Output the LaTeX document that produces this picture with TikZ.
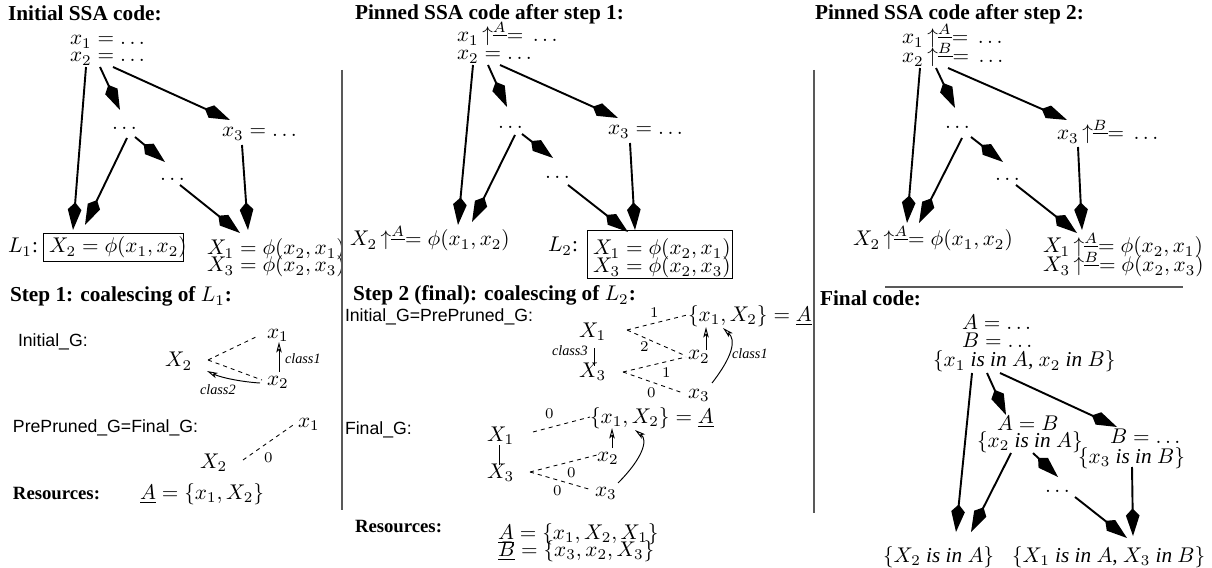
\documentclass[tikz,border=0pt]{standalone}
\usepackage{fontspec}
\setmainfont{Liberation Serif}
\newfontfamily\helv{Liberation Sans}
\usetikzlibrary{arrows.meta}
\newcommand{\pinup}[1]{\,{\uparrow}^{\underline{#1}}{=}\;}
\begin{document}
\begin{tikzpicture}[x=0.47pt,y=-0.47pt,
  every node/.style={inner sep=0pt, outer sep=0pt, anchor=base west},
  ttl/.style={font=\fontsize{10}{12}\selectfont\bfseries},
  res/.style={font=\fontsize{8.8}{10}\selectfont\bfseries},
  sans/.style={font=\fontsize{8.3}{10}\selectfont\helv},
  cls/.style={font=\fontsize{6.7}{8}\selectfont\itshape},
  num/.style={font=\fontsize{7}{8}\selectfont},
  flow/.style={line width=0.9pt, -{Kite[length=13pt,width=6.4pt,inset=3.4pt]}},
  dep/.style={line width=0.4pt, dash pattern=on 1.9pt off 1.9pt},
  cl/.style={line width=0.45pt, -{Stealth[length=5pt,width=2.6pt,inset=1.2pt,open]}},
  sep/.style={line width=0.6pt, black!65},
  boxed/.style={draw, line width=0.45pt, anchor=north west},
]
\useasboundingbox (0,0) rectangle (1212,568);

% ---------------- Panel 1
\node[ttl] (t1) at (8,21) {Initial SSA code:};
\node (p1a) at (70,45) {$x_1 = \ldots$};
\node (p1b) at (70,62) {$x_2 = \ldots$};
\node (p1d1) at (112,130) {$\ldots$};
\node (p1x3) at (222,137) {$x_3 = \ldots$};
\node (p1d2) at (160,181) {$\ldots$};
\node (p1L) at (8,253) {$L_1$:};
\node[boxed, minimum width=65.8pt, minimum height=13.6pt] (box1) at (43,233) {};
\node (p1X2) at (49,253) {$X_2 = \phi(x_1,x_2)$};
\node (p1X1) at (207,255) {$X_1 = \phi(x_2,x_1)$};
\node (p1X3) at (207,272) {$X_3 = \phi(x_2,x_3)$};

% ---------------- Panel 2
\node[ttl] (t2) at (355,20) {Pinned SSA code after step 1:};
\node (p2a) at (457,42) {$x_1\pinup{A}\ldots$};
\node (p2b) at (457,60) {$x_2 = \ldots$};
\node (p2d1) at (498,129) {$\ldots$};
\node (p2x3) at (608,135) {$x_3 = \ldots$};
\node (p2d2) at (545,179) {$\ldots$};
\node (p2X2) at (350,246) {$X_2\pinup{A}\phi(x_1,x_2)$};
\node (p2L) at (548,252) {$L_2$:};
\node[boxed, minimum width=68.6pt, minimum height=22.6pt] (box2) at (587,230) {};
\node (p2X1) at (593,255) {$X_1 = \phi(x_2,x_1)$};
\node (p2X3) at (593,273) {$X_3 = \phi(x_2,x_3)$};

% ---------------- Panel 3
\node[ttl] (t3) at (815,20) {Pinned SSA code after step 2:};
\node (p3a) at (902,44) {$x_1\pinup{A}\ldots$};
\node (p3b) at (902,63) {$x_2\pinup{B}\ldots$};
\node (p3d1) at (945,129) {$\ldots$};
\node (p3x3) at (1057,140) {$x_3\pinup{B}\ldots$};
\node (p3d2) at (995,181) {$\ldots$};
\node (p3X2) at (853,246) {$X_2\pinup{A}\phi(x_1,x_2)$};
\node (p3X1) at (1043,253) {$X_1\pinup{A}\phi(x_2,x_1)$};
\node (p3X3) at (1043,272) {$X_3\pinup{B}\phi(x_2,x_3)$};

% ---------------- Final code
\node[ttl] (t4) at (820,306) {Final code:};
\node (f1) at (962,330) {$A = \ldots$};
\node (f2) at (962,348) {$B = \ldots$};
\node (f3) at (933,367) {$\{x_1$ \textit{is in} $A$, $x_2$ \textit{in} $B\}$};
\node (f4) at (997,430) {$A = B$};
\node (f5) at (977,447) {$\{x_2$ \textit{is in} $A\}$};
\node (f6) at (1110,443) {$B = \ldots$};
\node (f7) at (1078,463) {$\{x_3$ \textit{is in} $B\}$};
\node (f8) at (1045,492) {$\ldots$};
\node (f9) at (883,562) {$\{X_2$ \textit{is in} $A\}$};
\node (f10) at (1012,562) {$\{X_1$ \textit{is in} $A$, $X_3$ \textit{in} $B\}$};

% ---------------- flow arrows
\foreach \n/\sx/\sy/\ex/\ey in {
  a1/86/67/73/230, a2/100/67/120/110, a3/113/67/230/120, a4/127/138/85/225,
  a5/135/137/165/162, a6/180/185/240/233, a7/242/145/248/230,
  b1/473/65/458/225, b2/488/65/507/107, b3/500/65/618/118, b4/515/135/472/222,
  b5/522/134/553/158, b6/568/185/628/232, b7/630/143/635/230,
  c1/920/68/907/223, c2/936/68/955/108, c3/948/68/1067/120, c4/962/138/919/223,
  c5/971/137/1003/162, c6/1016/185/1077/233, c7/1078/147/1082/230,
  d1/972/373/956/532, d2/987/373/1006/415, d3/1000/373/1117/427, d4/1011/453/971/532,
  d5/1033/453/1058/477, d6/1075/497/1127/538, d7/1132/467/1133/536}{
  \coordinate (s\n) at (\sx,\sy);
  \coordinate (e\n) at (\ex,\ey);
  \draw[flow] (s\n) -- (e\n);
}

% ---------------- separators
\coordinate (v1t) at (342,70); \coordinate (v1b) at (342,510);
\coordinate (v2t) at (814,70); \coordinate (v2b) at (814,513);
\coordinate (h1l) at (885,287); \coordinate (h1r) at (1183,287);
\draw[sep] (v1t) -- (v1b);
\draw[sep] (v2t) -- (v2b);
\draw[sep] (h1l) -- (h1r);

% ---------------- Step 1
\node[ttl] (s1) at (10,302) {Step 1: coalescing of $L_1$:};
\node[sans] (s1g) at (18,347) {Initial\_G:};
\node (g1X2) at (165,367) {$X_2$};
\node (g1x1) at (267,338) {$x_1$};
\node (g1x2) at (267,385) {$x_2$};
\node[cls] (g1c1) at (285,364) {class1};
\node[cls] (g1c2) at (200,394) {class2};
\coordinate (g1ap) at (208,360);
\coordinate (g1e1) at (258,336);
\coordinate (g1e2) at (262,380);
\draw[dep] (g1ap) -- (g1e1);
\draw[dep] (g1ap) -- (g1e2);
\coordinate (g1u1) at (279,372); \coordinate (g1u2) at (279,342);
\draw[cl] (g1u1) -- (g1u2);
\coordinate (g1k1) at (260,383); \coordinate (g1k2) at (207,371);
\draw[cl] (g1k1) .. controls (243,382) and (222,378) .. (g1k2);

\node[sans] (s1p) at (13,432) {PrePruned\_G=Final\_G:};
\node (h1x1) at (298,427) {$x_1$};
\node (h1X2) at (200,468) {$X_2$};
\coordinate (h1a) at (243,460); \coordinate (h1b) at (296,423);
\draw[dep] (h1a) -- (h1b);
\node[num] (h1n) at (264,462) {$0$};

\node[res] (s1r) at (13,499) {Resources:};
\node (s1rA) at (140,499) {$\underline{A} = \{x_1, X_2\}$};

% ---------------- Step 2
\node[ttl] (s2) at (353,301) {Step 2 (final): coalescing of $L_2$:};
\node[sans] (s2g) at (345,321) {Initial\_G=PrePruned\_G:};
\node (g2X1) at (579,337) {$X_1$};
\node (g2X3) at (579,377) {$X_3$};
\node[cls] (g2c3) at (552,356) {class3};
\node (g2S) at (688,321) {$\{x_1, X_2\} = \underline{A}$};
\node (g2x2) at (688,360) {$x_2$};
\node (g2x3) at (688,398) {$x_3$};
\node[cls] (g2c1) at (732,358) {class1};
\coordinate (g2a1) at (627,330);
\coordinate (g2a3) at (623,372);
\coordinate (g2eS) at (687,315);
\coordinate (g2e2a) at (686,356);
\coordinate (g2e2b) at (686,357);
\coordinate (g2e3) at (683,393);
\draw[dep] (g2a1) -- (g2eS);
\draw[dep] (g2a1) -- (g2e2a);
\draw[dep] (g2a3) -- (g2e2b);
\draw[dep] (g2a3) -- (g2e3);
\node[num] (g2n1) at (650,318) {$1$};
\node[num] (g2n2) at (640,352) {$2$};
\node[num] (g2n3) at (662,377) {$1$};
\node[num] (g2n4) at (647,397) {$0$};
\coordinate (g2v1) at (594,348); \coordinate (g2v2) at (594,366);
\draw[line width=0.45pt] (g2v1) -- (g2v2);
\coordinate (g2u1) at (706,350); \coordinate (g2u2) at (706,327);
\draw[cl] (g2u1) -- (g2u2);
\coordinate (g2k1) at (712,383); \coordinate (g2k2) at (723,328);
\draw[cl] (g2k1) .. controls (733,356) and (736,340) .. (g2k2);

\node[sans] (s2f) at (345,434) {Final\_G:};
\node (g3X1) at (487,441) {$X_1$};
\node (g3X3) at (487,478) {$X_3$};
\node (g3S) at (590,423) {$\{x_1, X_2\} = \underline{A}$};
\node (g3x2) at (597,461) {$x_2$};
\node (g3x3) at (595,496) {$x_3$};
\coordinate (g3v1) at (499,445); \coordinate (g3v2) at (499,465);
\draw[line width=0.45pt] (g3v1) -- (g3v2);
\coordinate (g3a1) at (533,432); \coordinate (g3eS) at (590,417);
\coordinate (g3a3) at (530,472); \coordinate (g3e2) at (597,455);
\coordinate (g3e3) at (592,490);
\draw[dep] (g3a1) -- (g3eS);
\draw[dep] (g3a3) -- (g3e2);
\draw[dep] (g3a3) -- (g3e3);
\node[num] (g3n1) at (545,418) {$0$};
\node[num] (g3n2) at (567,477) {$0$};
\node[num] (g3n3) at (553,495) {$0$};
\coordinate (g3u1) at (612,448); \coordinate (g3u2) at (612,428);
\draw[cl] (g3u1) -- (g3u2);
\coordinate (g3k1) at (618,483); \coordinate (g3k2) at (635,430);
\draw[cl] (g3k1) .. controls (643,458) and (648,440) .. (g3k2);

\node[res] (s2r) at (355,532) {Resources:};
\node (s2rA) at (498,539) {$\underline{A} = \{x_1, X_2, X_1\}$};
\node (s2rB) at (498,556) {$\underline{B} = \{x_3, x_2, X_3\}$};
\end{tikzpicture}
\end{document}
